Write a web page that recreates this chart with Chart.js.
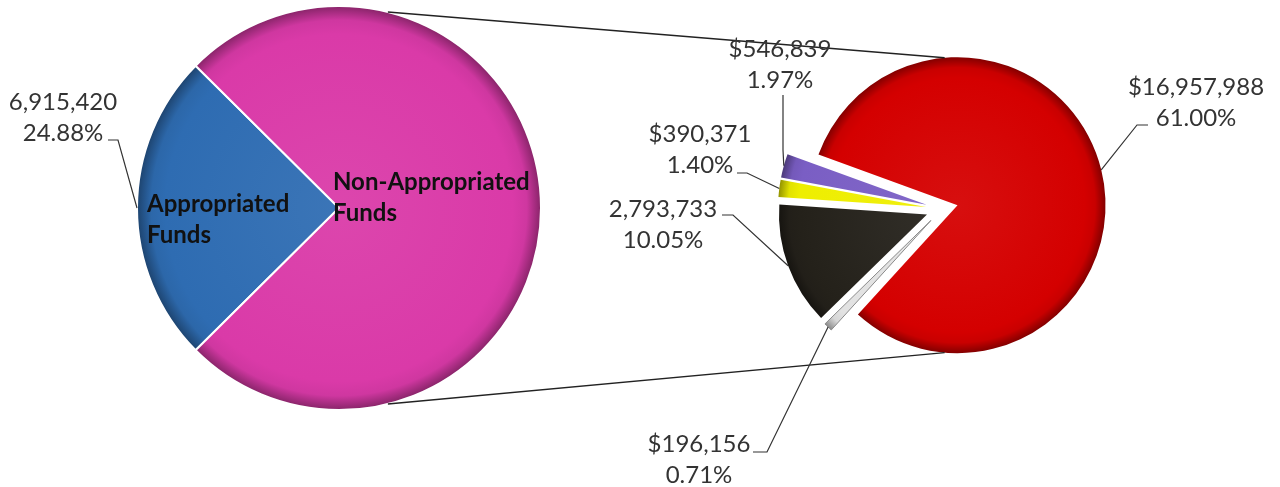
<!DOCTYPE html>
<html>
<head>
<meta charset="utf-8">
<script src="https://cdn.jsdelivr.net/npm/chart.js@4.4.0/dist/chart.umd.min.js"></script>
<style>
  html, body { margin: 0; padding: 0; background: #fff; }
  #wrap { position: relative; width: 1280px; height: 487px; }
  #wrap canvas { position: absolute; left: 0; top: 0; }
</style>
</head>
<body>
<div id="wrap">
  <canvas id="mainPie" width="1280" height="487"></canvas>
  <canvas id="subPie" width="1280" height="487"></canvas>
</div>
<script>
// data
const mainLabels = ['Appropriated Funds', 'Non-Appropriated Funds'];
const mainValues = [6915420, 20885087];
const mainPrefix = ['', ''];
const subLabels = ['Red', 'Silver', 'Black', 'Yellow', 'Purple'];
const subValues = [16957988, 196156, 2793733, 390371, 546839];
const subPrefix = ['$', '$', '', '$', '$'];
const total = mainValues[0] + mainValues[1];

// styles
const mainColors = ['#2e6cb2', '#da3aa8'];
const subColors = ['#d40000', '#e2e2e2', '#24211a', '#eeee00', '#7a5ec4'];
const FONT = '24px Lato';
const BOLD_FONT = 'bold 24px Lato';
const LINE_H = 31;

// layout (label centre x / first baseline, leader elbow points)
const mainLabelPos = [[63, 110]];
const mainLead = [[[108, 140], [118, 140]]];
const mainInnerPos = [[147, 212], [333, 190]];
const subLabelPos = [[1196, 95], [699, 452], [663, 217], [700, 142], [780, 57]];
const subLead = [
  [[1148, 125], [1137, 125]],
  [[753, 452], [767, 452]],
  [[722, 215], [733, 215]],
  [[737, 173], [747, 173]],
  [[783, 95], [783, 150]]
];
const SUB_ROTATION = 290;
const SUB_EXPLODE = 16;
const CONNECT_FROM = 76;
const CONNECT_TO = 95;

function shade(hex, f) {
  const n = parseInt(hex.slice(1), 16);
  const t = f < 0 ? 0 : 255, p = Math.abs(f);
  const c = [n >> 16, (n >> 8) & 255, n & 255].map(v => Math.round(v + (t - v) * p));
  return 'rgb(' + c.join(',') + ')';
}

function midAngle(values, i, rotation) {
  const sum = values.reduce((s, v) => s + v, 0);
  let a = (rotation - 90) * Math.PI / 180;
  for (let k = 0; k < i; k++) a += values[k] / sum * 2 * Math.PI;
  return a + values[i] / sum * Math.PI;
}

function bevelFill(colors, values, rotation, radius, explode) {
  return (c) => {
    const base = colors[c.dataIndex];
    const area = c.chart.chartArea;
    if (!area) return base;
    const m = midAngle(values, c.dataIndex, rotation);
    const cx = (area.left + area.right) / 2 + Math.cos(m) * explode;
    const cy = (area.top + area.bottom) / 2 + Math.sin(m) * explode;
    const g = c.chart.ctx.createRadialGradient(cx, cy, 0, cx, cy, radius);
    g.addColorStop(0, shade(base, 0.06));
    g.addColorStop(0.86, base);
    g.addColorStop(0.93, shade(base, -0.05));
    g.addColorStop(1, shade(base, -0.38));
    return g;
  };
}

function padFor(cx, cy, half) {
  return { left: cx - half, top: cy - half, right: 1280 - cx - half, bottom: 487 - cy - half };
}

function twoLines(s) {
  const k = s.lastIndexOf(' ');
  return [s.slice(0, k), s.slice(k + 1)];
}

const explodePlugin = {
  id: 'explode',
  afterDatasetUpdate(chart, args, opts) {
    const amt = opts.amount || 0;
    args.meta.data.forEach(arc => {
      const m = (arc.startAngle + arc.endAngle) / 2;
      arc.x += Math.cos(m) * amt;
      arc.y += Math.sin(m) * amt;
    });
  }
};

function arcPoint(arc) {
  const m = (arc.startAngle + arc.endAngle) / 2;
  return [arc.x + Math.cos(m) * arc.outerRadius, arc.y + Math.sin(m) * arc.outerRadius];
}

function drawLabel(ctx, lines, pos, lead, target) {
  ctx.fillStyle = '#333';
  ctx.font = FONT;
  ctx.textAlign = 'center';
  ctx.textBaseline = 'alphabetic';
  lines.forEach((t, k) => ctx.fillText(t, pos[0], pos[1] + k * LINE_H));
  ctx.strokeStyle = '#333';
  ctx.lineWidth = 1.2;
  ctx.beginPath();
  ctx.moveTo(lead[0][0], lead[0][1]);
  lead.slice(1).forEach(p => ctx.lineTo(p[0], p[1]));
  ctx.lineTo(target[0], target[1]);
  ctx.stroke();
}

function valueLines(v, prefix) {
  return [prefix + v.toLocaleString('en-US'), (v / total * 100).toFixed(2) + '%'];
}

const mainLabelPlugin = {
  id: 'mainLabels',
  afterDraw(chart) {
    const ctx = chart.ctx;
    const arcs = chart.getDatasetMeta(0).data;
    ctx.save();
    mainLabelPos.forEach((pos, i) => {
      drawLabel(ctx, valueLines(mainValues[i], mainPrefix[i]), pos, mainLead[i], arcPoint(arcs[i]));
    });
    ctx.font = BOLD_FONT;
    ctx.fillStyle = '#111';
    ctx.textAlign = 'left';
    mainInnerPos.forEach((pos, i) => {
      twoLines(mainLabels[i]).forEach((t, k) => ctx.fillText(t, pos[0], pos[1] + k * LINE_H));
    });
    ctx.restore();
  }
};

const subLabelPlugin = {
  id: 'subLabels',
  afterDraw(chart) {
    const ctx = chart.ctx;
    const arcs = chart.getDatasetMeta(0).data;
    const src = mainChart.getDatasetMeta(0).data[0];
    const dst = arcs[0];
    ctx.save();
    ctx.strokeStyle = '#222';
    ctx.lineWidth = 1.4;
    [-1, 1].forEach(s => {
      const a0 = s * CONNECT_FROM * Math.PI / 180;
      const a1 = s * CONNECT_TO * Math.PI / 180;
      ctx.beginPath();
      ctx.moveTo(src.x + Math.cos(a0) * src.outerRadius, src.y + Math.sin(a0) * src.outerRadius);
      ctx.lineTo(dst.x + Math.cos(a1) * dst.outerRadius, dst.y + Math.sin(a1) * dst.outerRadius);
      ctx.stroke();
    });
    subLabelPos.forEach((pos, i) => {
      drawLabel(ctx, valueLines(subValues[i], subPrefix[i]), pos, subLead[i], arcPoint(arcs[i]));
    });
    ctx.restore();
  }
};

const mainRotation = 270 - mainValues[0] / total * 180;
const MAIN_R = 202;
const SUB_R = 148;

const mainChart = new Chart(document.getElementById('mainPie'), {
  type: 'pie',
  data: {
    labels: mainLabels,
    datasets: [{
      data: mainValues,
      backgroundColor: bevelFill(mainColors, mainValues, mainRotation, MAIN_R, 0),
      borderColor: '#ffffff',
      borderWidth: 2
    }]
  },
  options: {
    responsive: false,
    animation: false,
    events: [],
    rotation: mainRotation,
    radius: MAIN_R,
    layout: { padding: padFor(339, 208, 208) },
    plugins: { legend: { display: false }, tooltip: { enabled: false } }
  },
  plugins: [mainLabelPlugin]
});

const subChart = new Chart(document.getElementById('subPie'), {
  type: 'pie',
  data: {
    labels: subLabels,
    datasets: [{
      data: subValues,
      backgroundColor: bevelFill(subColors, subValues, SUB_ROTATION, SUB_R, SUB_EXPLODE),
      borderColor: '#8a8a8a',
      borderWidth: [0, 1, 0, 0, 0]
    }]
  },
  options: {
    responsive: false,
    animation: false,
    events: [],
    rotation: SUB_ROTATION,
    radius: SUB_R,
    layout: { padding: padFor(942, 209, 209) },
    plugins: {
      legend: { display: false },
      tooltip: { enabled: false },
      explode: { amount: SUB_EXPLODE }
    }
  },
  plugins: [explodePlugin, subLabelPlugin]
});
</script>
</body>
</html>
